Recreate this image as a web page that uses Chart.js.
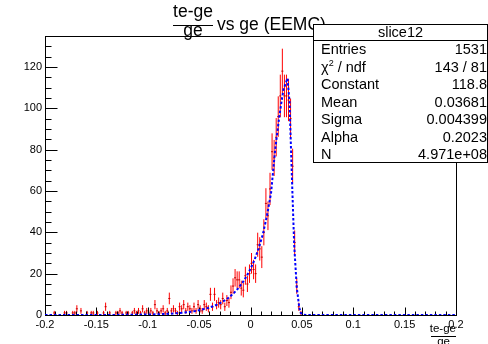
<!DOCTYPE html>
<html>
<head>
<meta charset="utf-8">
<script src="https://cdn.jsdelivr.net/npm/chart.js@4.4.0/dist/chart.umd.min.js"></script>
<style>
  body { margin: 0; background: #fff; }
  #wrap { position: relative; width: 488px; height: 344px; overflow: hidden;
          font-family: "Liberation Sans", Arial, sans-serif; color: #000; }
  #wrap canvas { position: absolute; left: 0; top: 0; }
  .t { position: absolute; white-space: nowrap; line-height: 1; }
  .bar { position: absolute; height: 1px; background: #000; }
  #stats { position: absolute; left: 313px; top: 24px; width: 175px; height: 139px;
           box-sizing: border-box; border: 1px solid #000; background: #fff; font-size: 14.5px; }
  #stats .row { position: absolute; left: 7px; right: 0; height: 17.5px; line-height: 17.5px; }
  #stats .row .v { position: absolute; right: 0; top: 0; }
  #stats .head { position: absolute; left: 0; right: 0; top: -1px; height: 16px; line-height: 16px; text-align: center; }
  #stats .sep { position: absolute; left: 0; right: 0; top: 15px; height: 1px; background: #000; }
  sup { font-size: 9px; line-height: 0; vertical-align: 6px; }
</style>
</head>
<body>
<div id="wrap">
  <canvas id="c" width="488" height="344"></canvas>

  <div class="t" style="left:153px;top:3.2px;width:80px;text-align:center;font-size:17.5px">te-ge</div>
  <div class="bar" style="left:173px;top:25px;width:40px"></div>
  <div class="t" style="left:153px;top:21.5px;width:80px;text-align:center;font-size:17.5px">ge</div>
  <div class="t" style="left:217px;top:16.2px;font-size:17.5px">vs ge (EEMC)</div>

  <div id="stats">
    <div class="head">slice12</div>
    <div class="sep"></div>
  </div>

  <div class="t" style="left:416px;top:322.8px;width:40px;text-align:right;font-size:11.5px">te-ge</div>
  <div class="bar" style="left:431px;top:336px;width:25px"></div>
  <div class="t" style="left:416px;top:335.5px;width:34px;text-align:right;font-size:11.5px">ge</div>
</div>

<script>
// histogram: 200 bins from -0.2 to 0.2
const binLow = -0.2;
const binWidth = 0.002;
const counts = [
  0, 0, 0, 0, 1, 0, 0, 0, 0, 1,
  1, 0, 0, 1, 1, 3, 0, 2, 0, 0,
  1, 0, 1, 1, 0, 1, 0, 0, 1, 4,
  0, 1, 0, 0, 1, 1, 2, 1, 0, 1,
  1, 0, 1, 2, 1, 2, 1, 3, 1, 2,
  1, 2, 1, 5, 2, 1, 2, 3, 1, 2,
  8, 2, 3, 2, 1, 4, 3, 5, 2, 4,
  3, 2, 4, 2, 5, 3, 2, 5, 4, 3,
  10, 4, 10, 5, 6, 5, 8, 4, 7, 6,
  11, 14, 18, 17, 17, 13, 12, 19, 15, 20,
  25, 22, 20, 34, 32, 28, 40, 54, 48, 61,
  79, 76, 86, 96, 106, 118, 106, 106, 104, 95,
  72, 35, 14, 4, 1, 0, 0, 0, 0, 0,
  0, 0, 0, 0, 0, 0, 0, 0, 0, 0,
  0, 0, 0, 0, 0, 0, 0, 0, 0, 0,
  0, 0, 0, 0, 0, 0, 0, 0, 0, 0,
  0, 0, 0, 0, 0, 0, 0, 0, 0, 0,
  0, 0, 0, 0, 0, 0, 0, 0, 0, 0,
  0, 0, 0, 0, 0, 0, 0, 0, 0, 0,
  0, 0, 0, 0, 0, 0, 0, 0, 0, 0
];

// fitted curve
const fitX = [-0.2, -0.16, -0.12, -0.1, -0.088, -0.08, -0.072, -0.064, -0.056, -0.048,
  -0.04, -0.036, -0.032, -0.028, -0.024, -0.02, -0.016, -0.012, -0.008, -0.004,
  0, 0.004, 0.008, 0.012, 0.016, 0.02, 0.024, 0.028, 0.032, 0.036,
  0.038, 0.04, 0.0425, 0.045, 0.0475, 0.049, 0.051, 0.054, 0.06, 0.1, 0.15, 0.2];
const fitY = [0.002, 0.012, 0.075, 0.23, 0.39, 0.57, 0.82, 1.19, 1.71, 2.5,
  3.6, 4.3, 5.1, 6.2, 7.4, 8.9, 10.7, 12.9, 15.5, 18.6,
  22.3, 26.8, 32.3, 39, 48, 59, 80, 96, 109, 114.5,
  103, 71, 34, 13.5, 3.5, 1, 0.2, 0, 0, 0, 0, 0];

const xTickValues = [-0.2, -0.15, -0.1, -0.05, 0, 0.05, 0.1, 0.15, 0.2];
const xTickLabels = ["-0.2", "-0.15", "-0.1", "-0.05", "0", "0.05", "0.1", "0.15", "0.2"];
const yTickValues = [0, 20, 40, 60, 80, 100, 120];
const yTickLabels = ["0", "20", "40", "60", "80", "100", "120"];

const statNames = ["Entries", "χ<sup>2</sup> / ndf", "Constant", "Mean", "Sigma", "Alpha", "N"];
const statValues = ["1531", "143 / 81", "118.8", "0.03681", "0.004399", "0.2023", "4.971e+08"];

const binCenters = counts.map((_, i) => binLow + binWidth * (i + 0.5));

// stats box rows
const stats = document.getElementById("stats");
statNames.forEach((name, i) => {
  const row = document.createElement("div");
  row.className = "row";
  row.style.top = (16.4 + 17.5 * i) + "px";
  row.innerHTML = name + '<span class="v">' + statValues[i] + "</span>";
  stats.appendChild(row);
});

const font = { family: "'Liberation Sans', Arial, sans-serif", size: 11 };

const histPlugin = {
  id: "hist",
  beforeDatasetsDraw(chart) {
    const { ctx, chartArea, scales: { x, y } } = chart;
    ctx.save();
    ctx.beginPath();
    ctx.rect(chartArea.left, chartArea.top, chartArea.width, chartArea.height + 1);
    ctx.clip();
    ctx.lineWidth = 1;
    counts.forEach((n, i) => {
      if (n <= 0) return;
      const c = binCenters[i];
      const px = x.getPixelForValue(c);
      const py = y.getPixelForValue(n);
      const err = Math.sqrt(n);
      ctx.strokeStyle = "#ff0000";
      ctx.beginPath();
      ctx.moveTo(px, y.getPixelForValue(Math.max(0, n - err)));
      ctx.lineTo(px, y.getPixelForValue(n + err));
      ctx.stroke();
      ctx.strokeStyle = "#c00000";
      ctx.beginPath();
      ctx.moveTo(x.getPixelForValue(c - binWidth / 2), py);
      ctx.lineTo(x.getPixelForValue(c + binWidth / 2), py);
      ctx.stroke();
    });
    ctx.restore();

    // frame and inner ticks, root style
    const l = Math.floor(chartArea.left) + 0.5, r = Math.floor(chartArea.right) + 0.5;
    const t = Math.floor(chartArea.top) + 0.5, b = Math.floor(chartArea.bottom) + 0.5;
    ctx.save();
    ctx.strokeStyle = "#000";
    ctx.lineWidth = 1;
    ctx.strokeRect(l, t, r - l, b - t);
    ctx.beginPath();
    for (let k = 0; k <= 40; k++) {
      const v = -0.2 + k * 0.01;
      const px = Math.round(x.getPixelForValue(v)) + 0.5;
      const len = k % 5 === 0 ? 8 : 4;
      ctx.moveTo(px, b);
      ctx.lineTo(px, b - len);
    }
    for (let v = 0; v <= 135; v += 5) {
      const py = Math.round(y.getPixelForValue(v)) + 0.5;
      const len = v % 20 === 0 ? 12 : 6;
      ctx.moveTo(l, py);
      ctx.lineTo(l + len, py);
    }
    ctx.stroke();
    ctx.restore();
  }
};

new Chart(document.getElementById("c"), {
  type: "scatter",
  data: {
    datasets: [
      {
        label: "slice12",
        data: binCenters.map((c, i) => ({ x: c, y: counts[i] })),
        pointRadius: 0,
        showLine: false
      },
      {
        type: "line",
        label: "fit",
        data: fitX.map((v, i) => ({ x: v, y: fitY[i] })),
        borderColor: "#0000ff",
        borderWidth: 2,
        borderDash: [2.5, 2],
        pointRadius: 0,
        tension: 0,
        fill: false
      }
    ]
  },
  options: {
    responsive: false,
    animation: false,
    devicePixelRatio: 1,
    layout: { padding: { top: 36, right: 32, left: 0, bottom: 0 } },
    plugins: { legend: { display: false }, tooltip: { enabled: false }, title: { display: false } },
    scales: {
      x: {
        type: "linear",
        min: -0.2,
        max: 0.2,
        grid: { display: false, drawTicks: false },
        border: { display: false },
        afterBuildTicks: s => { s.ticks = xTickValues.map(v => ({ value: v })); },
        afterFit: s => { s.height = 29; },
        ticks: {
          padding: 3,
          autoSkip: false,
          maxRotation: 0,
          color: "#000",
          font: font,
          callback: (v, i) => xTickLabels[i]
        }
      },
      y: {
        type: "linear",
        min: 0,
        max: 135,
        grid: { display: false, drawTicks: false },
        border: { display: false },
        afterBuildTicks: s => { s.ticks = yTickValues.map(v => ({ value: v })); },
        afterFit: s => { s.width = 45; },
        ticks: {
          padding: 3,
          autoSkip: false,
          color: "#000",
          font: font,
          callback: (v, i) => yTickLabels[i]
        }
      }
    }
  },
  plugins: [histPlugin]
});
</script>
</body>
</html>
